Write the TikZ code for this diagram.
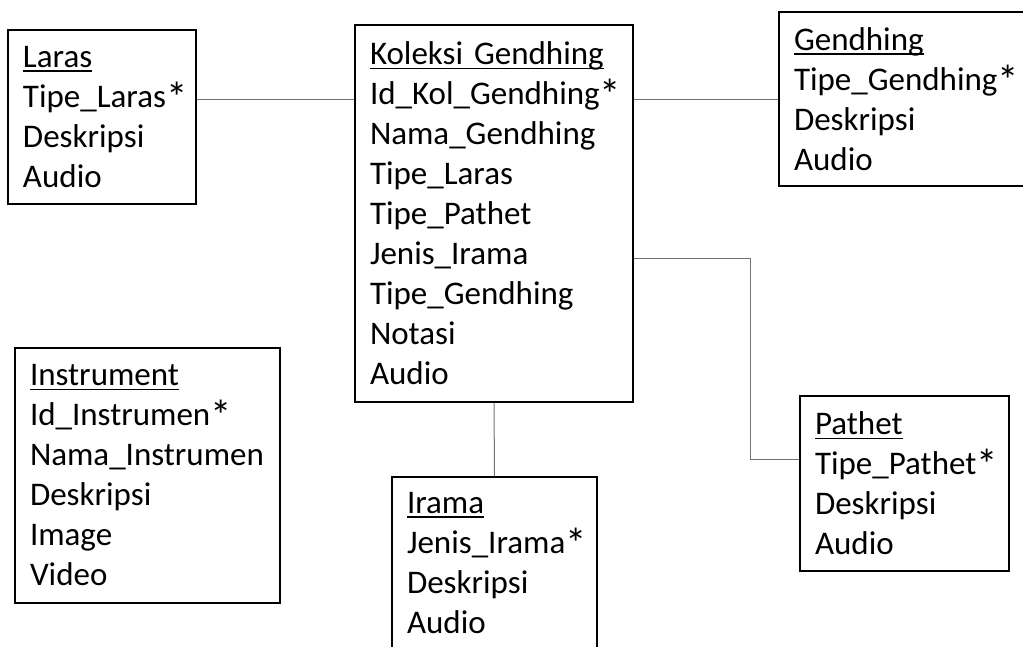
\documentclass[tikz,border=0pt]{standalone}
\usepackage{fontspec}
\usepackage{graphicx}
\setmainfont{Carlito}
\usetikzlibrary{positioning,calc}
\newcommand{\enttitle}[1]{\setbox0\hbox{#1}\rlap{\rule[-4.5pt]{\wd0}{1.6pt}}\box0}
\newcommand{\keymark}{\raisebox{-5pt}{\scalebox{1.3}{*}}}

\begin{document}
\begin{tikzpicture}
[x=1pt,y=-1pt,
    entity/.style={draw,line width=1.4pt,shape=rectangle,inner xsep=15pt,inner ysep=0pt,
        align=left,font=\fontsize{33}{40}\selectfont},
    link/.style={draw=black!55,line width=1pt}]
\path[use as bounding box,clip] (0,0) rectangle (1023,646);
%%%%%%%%%%
%%%%% entities
\node (laras) [entity,text width=158pt,minimum height=174pt] at (102,117)
    {\enttitle{Laras}\\Tipe\_Laras\keymark\\Deskripsi\\Audio};
\node (koleksi) [entity,text width=248pt,minimum height=377pt] at (494,213.5)
    {\enttitle{Koleksi Gendhing}\\Id\_Kol\_Gendhing\keymark\\Nama\_Gendhing\\Tipe\_Laras\\
     Tipe\_Pathet\\Jenis\_Irama\\Tipe\_Gendhing\\Notasi\\Audio};
\node (gendhing) [entity,text width=230pt,minimum height=174pt] at (909,99)
    {\enttitle{Gendhing}\\Tipe\_Gendhing\keymark\\Deskripsi\\Audio};
\node (instrument) [entity,text width=235pt,minimum height=255pt] at (147.5,475.5)
    {\enttitle{Instrument}\\Id\_Instrumen\keymark\\Nama\_Instrumen\\Deskripsi\\Image\\Video};
\node (pathet) [entity,text width=179pt,minimum height=175pt] at (904.5,483.5)
    {\enttitle{Pathet}\\Tipe\_Pathet\keymark\\Deskripsi\\Audio};
\node (irama) [entity,text width=175pt,minimum height=172pt] at (494.5,563)
    {\enttitle{Irama}\\Jenis\_Irama\keymark\\Deskripsi\\Audio};
%% relations
\coordinate (rowid) at (0,99);
\coordinate (pbend) at (750,258);
\coordinate (pin) at (750,459);
\draw[link] (laras.east |- rowid) -- (koleksi.west |- rowid);
\draw[link] (koleksi.east |- rowid) -- (gendhing.west);
\draw[link] (koleksi.south) -- (irama.north);
\draw[link] (koleksi.east |- pbend) -- (pbend) -- (pin) -- (pathet.west |- pin);
\end{tikzpicture}
\end{document}
